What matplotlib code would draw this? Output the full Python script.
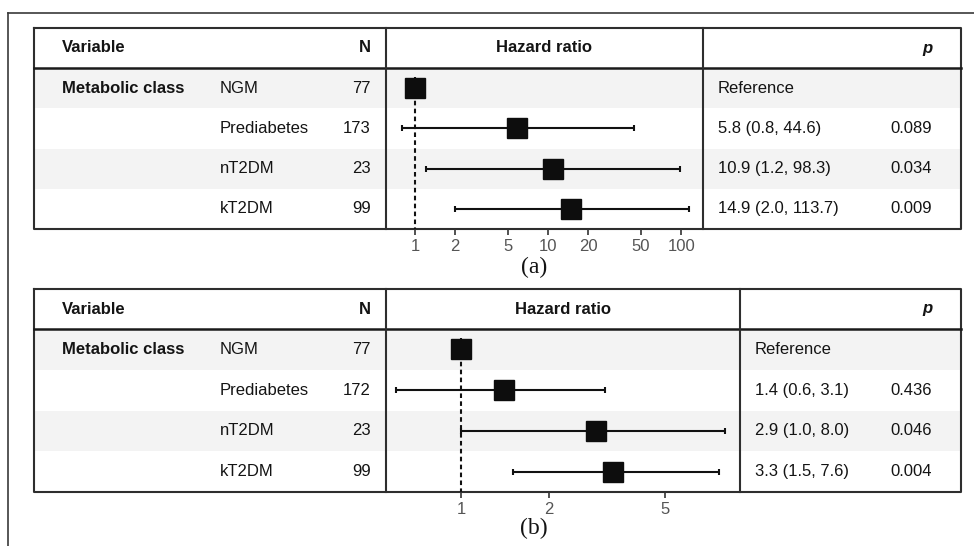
import numpy as np
import matplotlib.pyplot as plt
from matplotlib.patches import Rectangle

plt.rcParams["font.family"] = ["Liberation Sans", "DejaVu Sans"]

# data
groups = ["NGM", "Prediabetes", "nT2DM", "kT2DM"]
variable = "Metabolic class"

n_a = [77, 173, 23, 99]
hr_a = [1.0, 5.8, 10.9, 14.9]
lo_a = [np.nan, 0.8, 1.2, 2.0]
hi_a = [np.nan, 44.6, 98.3, 113.7]
p_a = ["", "0.089", "0.034", "0.009"]
ticks_a = [1, 2, 5, 10, 20, 50, 100]

n_b = [77, 172, 23, 99]
hr_b = [1.0, 1.4, 2.9, 3.3]
lo_b = [np.nan, 0.6, 1.0, 1.5]
hi_b = [np.nan, 3.1, 8.0, 7.6]
p_b = ["", "0.436", "0.046", "0.004"]
ticks_b = [1, 2, 5]

W, H = 974, 546
TXT = "#141414"
LINE = "#2e2e2e"
FS = 12


def est_label(h, lo, hi):
    if np.isnan(lo):
        return "Reference"
    return f"{h:.1f} ({lo:.1f}, {hi:.1f})"


def draw_panel(fig, ax0, geo, n, hr, lo, hi, pv, ticks, xlim, tag):
    top, hdr, bot = geo["top"], geo["hdr"], geo["bot"]
    left, d1, d2, right = 34, 386, geo["d2"], 961
    rh = (bot - hdr) / 4
    centers = [hdr + rh * (i + 0.5) for i in range(4)]

    # row shading
    for i in (0, 2):
        ax0.add_patch(Rectangle((left, hdr + rh * i), right - left, rh,
                                color="#f3f3f3", lw=0, zorder=0))

    # box lines
    lk = dict(color=LINE, lw=1.5, zorder=5, solid_capstyle="projecting")
    ax0.plot([left, right, right, left, left], [top, top, bot, bot, top], **lk)
    ax0.plot([left, right], [hdr, hdr], color="#1a1a1a", lw=1.8, zorder=5)
    ax0.plot([d1, d1], [top, bot], **lk)
    ax0.plot([d2, d2], [top, bot], **lk)

    # header
    hy = (top + hdr) / 2
    ax0.text(62, hy, "Variable", fontsize=FS, fontweight="bold", color=TXT,
             va="center", ha="left")
    ax0.text(371, hy, "N", fontsize=FS, fontweight="bold", color=TXT,
             va="center", ha="right")
    ax0.text((d1 + d2) / 2, hy, "Hazard ratio", fontsize=FS, fontweight="bold",
             color=TXT, va="center", ha="center")
    ax0.text(932, hy, "p", fontsize=FS, fontweight="bold", fontstyle="italic",
             color=TXT, va="center", ha="right")

    # rows
    ax0.text(62, centers[0], variable, fontsize=FS, fontweight="bold",
             color=TXT, va="center", ha="left")
    for i, y in enumerate(centers):
        ax0.text(220, y, groups[i], fontsize=FS, color=TXT, va="center")
        ax0.text(371, y, str(n[i]), fontsize=FS, color=TXT, va="center",
                 ha="right")
        ax0.text(d2 + 15, y, est_label(hr[i], lo[i], hi[i]), fontsize=FS,
                 color=TXT, va="center")
        ax0.text(932, y, pv[i], fontsize=FS, color=TXT, va="center",
                 ha="right")

    # forest axes
    ax = fig.add_axes([d1 / W, 1 - bot / H, (d2 - d1) / W, (bot - hdr) / H])
    ax.patch.set_alpha(0)
    ax.set_xscale("log")
    ax.set_xlim(*xlim)
    ax.set_ylim(3.5, -0.5)
    for s in ax.spines.values():
        s.set_visible(False)
    ax.set_yticks([])
    ax.set_xticks(ticks)
    ax.set_xticklabels([str(t) for t in ticks])
    ax.minorticks_off()
    ax.tick_params(axis="x", direction="out", length=4, width=1.2,
                   color="#333333", labelcolor="#555555", labelsize=FS, pad=3)

    ax.plot([1, 1], [-0.27, 3.5], color="#111111", lw=1.5,
            dashes=(2.2, 1.6), clip_on=False, zorder=2)

    ypos = np.arange(len(groups))
    hr = np.array(hr)
    lo = np.array(lo)
    hi = np.array(hi)
    m = ~np.isnan(lo)
    ax.errorbar(hr[m], ypos[m], xerr=[hr[m] - lo[m], hi[m] - hr[m]], fmt="none",
                ecolor="#111111", elinewidth=1.5, capsize=2.3, capthick=1.5,
                zorder=3)
    ax.plot(hr, ypos, "s", ms=14, color="#0d0d0d", zorder=4, clip_on=False)

    ax0.text(534, geo["tag"], tag, fontsize=17, family="Liberation Serif",
             color=TXT, va="center", ha="center")


fig = plt.figure(figsize=(W / 100, H / 100), dpi=100)
ax0 = fig.add_axes([0, 0, 1, 1])
ax0.set_xlim(0, W)
ax0.set_ylim(H, 0)
ax0.axis("off")

# outer frame
ax0.plot([8, W], [13, 13], color="#3a3a3a", lw=1.2)
ax0.plot([8, 8], [13, H], color="#3a3a3a", lw=1.2)

draw_panel(fig, ax0, dict(top=28, hdr=68, bot=229, d2=703, tag=267),
           n_a, hr_a, lo_a, hi_a, p_a, ticks_a, (0.605, 146), "(a)")
draw_panel(fig, ax0, dict(top=289, hdr=329, bot=492, d2=740, tag=528),
           n_b, hr_b, lo_b, hi_b, p_b, ticks_b, (0.553, 9.0), "(b)")

fig.savefig("out.png", dpi=100)
